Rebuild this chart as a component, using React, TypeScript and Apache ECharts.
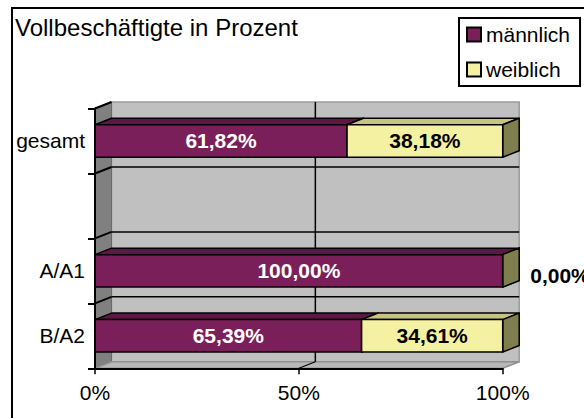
import React, { useEffect, useRef } from "react";
import * as echarts from "echarts";

const categories = ["B/A2", "A/A1", "", "gesamt"];
const maleValues: (number | null)[] = [65.39, 100.0, null, 61.82];
const femaleValues: (number | null)[] = [34.61, 0.0, null, 38.18];
const seriesNames = ["männlich", "weiblich"];
const titleText = "Vollbeschäftigte in Prozent";

const FONT = '"Liberation Sans", Arial, sans-serif';
const DX = 16.5;
const DY = -6.5;

const MALE = { front: "#7b1f5a", top: "#5e1645", side: "#4a1136" };
const FEMALE = { front: "#f5f1a3", top: "#c7c480", side: "#7f7e4e" };

const fmt = (v: number) => v.toFixed(2).replace(".", ",") + "%";

function wallsRender(params: any, api: any) {
  const cs = params.coordSys;
  const x0 = cs.x, y0 = cs.y, x1 = cs.x + cs.width, y1 = cs.y + cs.height;
  const band = api.size([0, 1])[1];
  const children: any[] = [];
  children.push({
    type: "rect",
    shape: { x: x0 + DX, y: y0 + DY, width: x1 - x0, height: y1 - y0 },
    style: { fill: "#c0c0c0", stroke: "#9a9a9a", lineWidth: 1.5 },
  });
  children.push({
    type: "polygon",
    shape: { points: [[x0, y0], [x0 + DX, y0 + DY], [x0 + DX, y1 + DY], [x0, y1]] },
    style: { fill: "#808080", stroke: "#6a6a6a", lineWidth: 1 },
  });
  children.push({
    type: "polygon",
    shape: { points: [[x0, y1], [x0 + DX, y1 + DY], [x1 + DX, y1 + DY], [x1, y1]] },
    style: { fill: "#b8b8b8", stroke: "#909090", lineWidth: 1.5 },
  });
  const n = categories.length;
  for (let i = 0; i < n; i++) {
    const y = y0 + i * band;
    children.push({
      type: "line",
      shape: { x1: x0, y1: y, x2: x0 + DX, y2: y + DY },
      style: { stroke: "#000", lineWidth: 2 },
    });
    if (i > 0) {
      children.push({
        type: "line",
        shape: { x1: x0 + DX, y1: y + DY, x2: x1 + DX, y2: y + DY },
        style: { stroke: "#000", lineWidth: 1.5 },
      });
    }
  }
  const xm = api.coord([50, 0])[0];
  children.push({
    type: "line",
    shape: { x1: xm + DX, y1: y0 + DY, x2: xm + DX, y2: y1 + DY },
    style: { stroke: "#000", lineWidth: 1.5 },
  });
  children.push({
    type: "line",
    shape: { x1: xm, y1: y1, x2: xm + DX, y2: y1 + DY },
    style: { stroke: "#000", lineWidth: 1.2 },
  });
  return { type: "group", children };
}

function makeBarRender(colors: any, labelColor: string) {
  return (params: any, api: any) => {
    const val = api.value(0);
    const cat = api.value(1);
    const start = api.value(2);
    const cs = api.coord([start, cat]);
    const xs = cs[0];
    const yc = cs[1];
    const xe = api.coord([start + val, cat])[0];
    const band = api.size([0, 1])[1];
    const h = band * 0.5;
    const top = yc - h / 2;
    const bot = yc + h / 2;
    const edge = { stroke: "#000", lineWidth: 1.5, lineJoin: "round" };
    const children: any[] = [];
    children.push({
      type: "polygon",
      shape: { points: [[xs, top], [xs + DX, top + DY], [xe + DX, top + DY], [xe, top]] },
      style: { fill: colors.top, ...edge },
    });
    children.push({
      type: "polygon",
      shape: { points: [[xe, top], [xe + DX, top + DY], [xe + DX, bot + DY], [xe, bot]] },
      style: { fill: colors.side, ...edge },
    });
    children.push({
      type: "rect",
      shape: { x: xs, y: top, width: xe - xs, height: h },
      style: { fill: colors.front, ...edge },
    });
    if (val === 0) {
      children.push({
        type: "text",
        x: xe + DX + 11,
        y: yc + 5,
        style: {
          text: fmt(val),
          fill: "#000",
          font: `bold 21px ${FONT}`,
          align: "left",
          verticalAlign: "middle",
        },
      });
    } else {
      children.push({
        type: "text",
        x: (xs + xe) / 2,
        y: yc,
        style: {
          text: fmt(val),
          fill: labelColor,
          font: `bold 21px ${FONT}`,
          align: "center",
          verticalAlign: "middle",
        },
      });
    }
    return { type: "group", children };
  };
}

export default function App() {
  const ref = useRef<HTMLDivElement>(null);
  useEffect(() => {
    if (!ref.current) return;
    const chart = echarts.init(ref.current, null, { renderer: "svg" });
    const maleData: any[] = [];
    const femaleData: any[] = [];
    categories.forEach((_, i) => {
      const m = maleValues[i];
      const f = femaleValues[i];
      if (m !== null) maleData.push([m, i, 0]);
      if (f !== null && m !== null) femaleData.push([f, i, m]);
    });
    chart.setOption({
      animation: false,
      backgroundColor: "#fff",
      title: {
        text: titleText,
        left: 10,
        top: 10,
        padding: 5,
        textStyle: { fontSize: 24, fontWeight: "normal", color: "#000", fontFamily: FONT },
      },
      legend: {
        orient: "vertical",
        left: 459,
        top: 18,
        itemWidth: 14,
        itemHeight: 14,
        itemGap: 14,
        padding: [6, 10, 6, 7],
        borderColor: "#000",
        borderWidth: 2,
        selectedMode: false,
        textStyle: { fontSize: 21, color: "#000", fontFamily: FONT },
        data: [
          { name: seriesNames[0], icon: "rect", itemStyle: { color: MALE.front, borderColor: "#000", borderWidth: 2 } },
          { name: seriesNames[1], icon: "rect", itemStyle: { color: FEMALE.front, borderColor: "#000", borderWidth: 2 } },
        ],
      },
      grid: {
        left: 95,
        top: 108.5,
        right: 81.3,
        bottom: 49.7,
        containLabel: false,
        outerBoundsMode: "none",
      },
      xAxis: {
        type: "value",
        min: 0,
        max: 100,
        interval: 50,
        z: 5,
        axisLabel: { formatter: "{value}%", fontSize: 21, color: "#000", margin: 14, fontFamily: FONT },
        axisLine: { show: true, lineStyle: { color: "#000", width: 2 } },
        axisTick: { show: true, length: 6, lineStyle: { color: "#000", width: 1.5 } },
        splitLine: { show: false },
      },
      yAxis: {
        type: "category",
        data: categories,
        z: 5,
        axisLabel: { fontSize: 21, color: "#000", margin: 10, fontFamily: FONT },
        axisLine: { show: true, lineStyle: { color: "#000", width: 2 } },
        axisTick: { show: true, length: 7, lineStyle: { color: "#000", width: 2 } },
        splitLine: { show: false },
      },
      graphic: [
        {
          type: "rect",
          silent: true,
          z: 100,
          shape: { x: 12, y: 8, width: 800, height: 600 },
          style: { fill: "none", stroke: "#000", lineWidth: 2 },
        },
      ],
      series: [
        {
          type: "custom",
          name: "walls",
          silent: true,
          clip: false,
          z: 1,
          data: [[0, 0]],
          renderItem: wallsRender,
        },
        {
          type: "custom",
          name: seriesNames[0],
          clip: false,
          z: 2,
          itemStyle: { color: MALE.front },
          data: maleData,
          renderItem: makeBarRender(MALE, "#fff"),
        },
        {
          type: "custom",
          name: seriesNames[1],
          clip: false,
          z: 3,
          itemStyle: { color: FEMALE.front },
          data: femaleData,
          renderItem: makeBarRender(FEMALE, "#000"),
        },
      ],
    });
    return () => chart.dispose();
  }, []);
  return (
    <div
      ref={ref}
      style={{ position: "fixed", left: 0, top: 0, width: 584, height: 418 }}
    />
  );
}
